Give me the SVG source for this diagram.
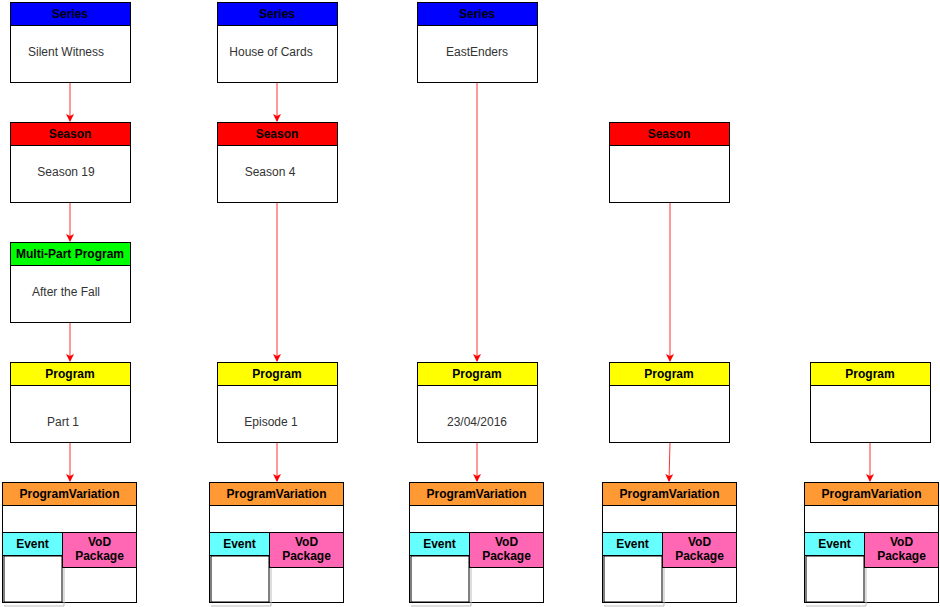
<svg xmlns="http://www.w3.org/2000/svg" width="940" height="607" viewBox="0 0 940 607">
<style>
text{font-family:"Liberation Sans",Arial,sans-serif;font-size:12px;text-anchor:middle}
.h{font-weight:bold;fill:#000}
.b{fill:#333}
.box{fill:#fff;stroke:#000;stroke-width:1}
.c{stroke:#ff3333;stroke-width:1;fill:none;marker-end:url(#a)}
.sh{fill:#fff;stroke:#bbb;stroke-width:1}
</style>
<defs><marker id="a" markerWidth="8" markerHeight="8" refX="7" refY="4" orient="auto" markerUnits="userSpaceOnUse"><path d="M0,0 L8,4 L0,8 L2,4 Z" fill="#ff0000"/></marker></defs>
<rect width="940" height="607" fill="#fff"/>
<g id="connectors">
<path class="c" d="M70,82V121"/><path class="c" d="M70,202V241"/><path class="c" d="M70,322V361"/><path class="c" d="M70,442V481"/>
<path class="c" d="M277,82V121"/><path class="c" d="M277,202V361"/><path class="c" d="M277,442V481"/>
<path class="c" d="M477,82V361"/><path class="c" d="M477,442V481"/>
<path class="c" d="M670,202V361"/><path class="c" d="M670,442L669,481"/>
<path class="c" d="M870,442V481"/>
</g>
<g id="series1"><rect class="box" x="10.5" y="2.5" width="120" height="80"/><rect x="10.5" y="2.5" width="120" height="23" fill="#0000ff" stroke="#000"/><text class="h" x="70" y="18">Series</text><text class="b" x="66" y="56">Silent Witness</text></g>
<g id="series2"><rect class="box" x="217.5" y="2.5" width="120" height="80"/><rect x="217.5" y="2.5" width="120" height="23" fill="#0000ff" stroke="#000"/><text class="h" x="277" y="18">Series</text><text class="b" x="271" y="56">House of Cards</text></g>
<g id="series3"><rect class="box" x="417.5" y="2.5" width="120" height="80"/><rect x="417.5" y="2.5" width="120" height="23" fill="#0000ff" stroke="#000"/><text class="h" x="477" y="18">Series</text><text class="b" x="477" y="56">EastEnders</text></g>
<g id="season1"><rect class="box" x="10.5" y="122.5" width="120" height="80"/><rect x="10.5" y="122.5" width="120" height="23" fill="#ff0000" stroke="#000"/><text class="h" x="70" y="138">Season</text><text class="b" x="66" y="176">Season 19</text></g>
<g id="season2"><rect class="box" x="217.5" y="122.5" width="120" height="80"/><rect x="217.5" y="122.5" width="120" height="23" fill="#ff0000" stroke="#000"/><text class="h" x="277" y="138">Season</text><text class="b" x="270" y="176">Season 4</text></g>
<g id="season4"><rect class="box" x="609.5" y="122.5" width="120" height="80"/><rect x="609.5" y="122.5" width="120" height="23" fill="#ff0000" stroke="#000"/><text class="h" x="669" y="138">Season</text></g>
<g id="multipart"><rect class="box" x="10.5" y="242.5" width="120" height="80"/><rect x="10.5" y="242.5" width="120" height="23" fill="#00ff00" stroke="#000"/><text class="h" x="70" y="258">Multi-Part Program</text><text class="b" x="66" y="296">After the Fall</text></g>
<g id="program1"><rect class="box" x="10.5" y="362.5" width="120" height="80"/><rect x="10.5" y="362.5" width="120" height="23" fill="#ffff00" stroke="#000"/><text class="h" x="70" y="378">Program</text><text class="b" x="63" y="426">Part 1</text></g>
<g id="program2"><rect class="box" x="217.5" y="362.5" width="120" height="80"/><rect x="217.5" y="362.5" width="120" height="23" fill="#ffff00" stroke="#000"/><text class="h" x="277" y="378">Program</text><text class="b" x="271" y="426">Episode 1</text></g>
<g id="program3"><rect class="box" x="417.5" y="362.5" width="120" height="80"/><rect x="417.5" y="362.5" width="120" height="23" fill="#ffff00" stroke="#000"/><text class="h" x="477" y="378">Program</text><text class="b" x="477" y="426">23/04/2016</text></g>
<g id="program4"><rect class="box" x="609.5" y="362.5" width="120" height="80"/><rect x="609.5" y="362.5" width="120" height="23" fill="#ffff00" stroke="#000"/><text class="h" x="669" y="378">Program</text></g>
<g id="program5"><rect class="box" x="810.5" y="362.5" width="120" height="80"/><rect x="810.5" y="362.5" width="120" height="23" fill="#ffff00" stroke="#000"/><text class="h" x="870" y="378">Program</text></g>
<defs>
<g id="pv">
<rect class="box" x="0.5" y="0.5" width="134" height="120"/>
<rect x="0.5" y="0.5" width="134" height="23" fill="#ff9933" stroke="#000"/>
<text class="h" x="67.5" y="16">ProgramVariation</text>
<rect x="0.5" y="50.5" width="60" height="23" fill="#66ffff" stroke="#000"/>
<text class="h" x="30.5" y="66">Event</text>
<rect x="60.5" y="50.5" width="74" height="35" fill="#ff66b3" stroke="#000"/>
<text class="h" x="97.5" y="64">VoD</text>
<text class="h" x="97.5" y="78">Package</text>
<path d="M2,75H60M62,86V124M2,124H62" stroke="#bbb" fill="none"/>
<rect x="2" y="74" width="58" height="46" fill="#fff" stroke="#000" stroke-width="1"/>
</g>
</defs>
<g id="pv1"><use href="#pv" x="2" y="482"/></g>
<g id="pv2"><use href="#pv" x="209" y="482"/></g>
<g id="pv3"><use href="#pv" x="409" y="482"/></g>
<g id="pv4"><use href="#pv" x="602" y="482"/></g>
<g id="pv5"><use href="#pv" x="804" y="482"/></g>
</svg>
